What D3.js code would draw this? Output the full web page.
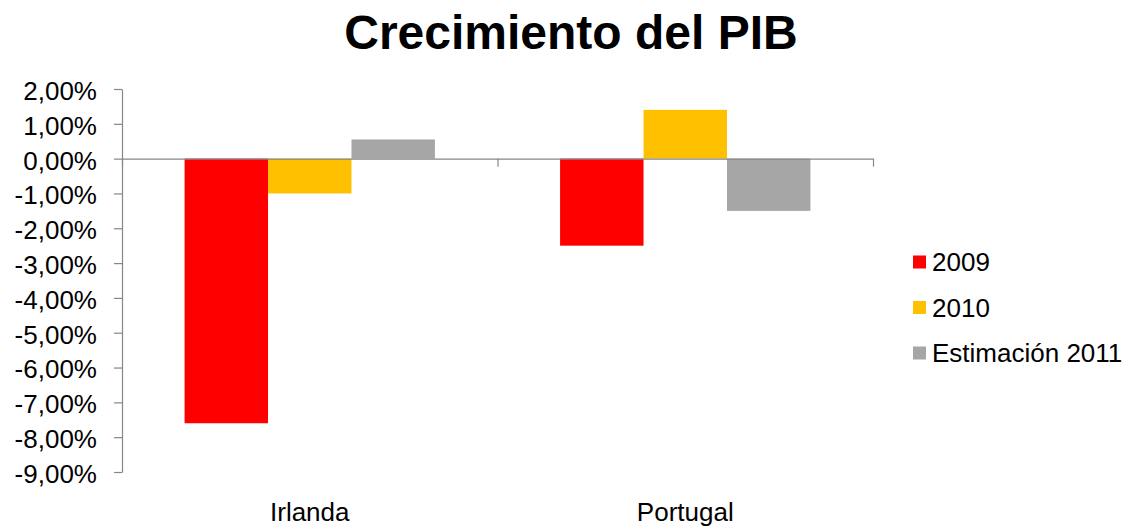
<!DOCTYPE html>
<html>
<head>
<meta charset="utf-8">
<script src="https://cdn.jsdelivr.net/npm/d3@7"></script>
<style>
  body { margin: 0; background: #fff; }
  svg text { font-family: Arial, "Liberation Sans", sans-serif; fill: #000; }
</style>
</head>
<body>
<svg id="chart" width="1128" height="526"></svg>
<script>
const title = "Crecimiento del PIB";
const countries = ["Irlanda", "Portugal"];
const series = ["2009", "2010", "Estimación 2011"];
const colors = ["#ff0000", "#ffc000", "#a6a6a6"];
// GDP growth in %, one array per series, same order as countries
const values2009 = [-7.6, -2.5];
const values2010 = [-1.0, 1.4];
const values2011 = [0.55, -1.5];
const yTicks = [2, 1, 0, -1, -2, -3, -4, -5, -6, -7, -8, -9];

const seriesValues = [values2009, values2010, values2011];
const rows = [];
countries.forEach((c, i) => {
  series.forEach((s, j) => rows.push({ country: c, series: s, value: seriesValues[j][i] }));
});

const svg = d3.select("#chart");
const axisColor = "#868686";

const locale = d3.formatLocale({ decimal: ",", thousands: ".", grouping: [3], currency: ["", "€"], minus: "-" });
const pct = d => locale.format(".2f")(d) + "%";

const y = d3.scaleLinear()
  .domain([-9, 2])
  .range([472, 89]);

const x0 = d3.scaleBand()
  .domain(countries)
  .range([122, 873]);

const x1 = d3.scaleBand()
  .domain(series)
  .range([0, x0.bandwidth()])
  .paddingOuter(0.75);

const color = d3.scaleOrdinal().domain(series).range(colors);

// title
svg.append("text")
  .attr("x", 571)
  .attr("y", 49)
  .attr("text-anchor", "middle")
  .style("font-size", "48px")
  .style("font-weight", "bold")
  .text(title);

// bars
svg.append("g")
  .selectAll("rect")
  .data(rows)
  .join("rect")
  .attr("x", d => x0(d.country) + x1(d.series))
  .attr("width", x1.bandwidth())
  .attr("y", d => y(Math.max(0, d.value)))
  .attr("height", d => Math.abs(y(d.value) - y(0)))
  .attr("fill", d => color(d.series));

// y axis
const yAxis = svg.append("g")
  .attr("transform", "translate(122,0)")
  .call(d3.axisLeft(y).tickValues(yTicks).tickFormat(pct).tickSize(8).tickSizeOuter(0).tickPadding(17));
yAxis.selectAll("text").style("font-size", "26px").attr("dy", "0.4em");

// x axis along zero, ticks at category edges
const xEdges = d3.scaleLinear().domain([0, countries.length]).range(x0.range());
const xAxis = svg.append("g")
  .attr("transform", `translate(0,${y(0)})`)
  .call(d3.axisBottom(xEdges).tickValues(d3.range(0, countries.length + 1)).tickFormat("").tickSize(8).tickSizeOuter(0));

svg.selectAll(".domain, .tick line").attr("stroke", axisColor).attr("stroke-width", 1.2);

// category labels
svg.append("g")
  .selectAll("text")
  .data(countries)
  .join("text")
  .attr("x", d => x0(d) + x0.bandwidth() / 2)
  .attr("y", 521)
  .attr("text-anchor", "middle")
  .style("font-size", "26px")
  .text(d => d);

// legend
const legend = svg.append("g")
  .selectAll("g")
  .data(series)
  .join("g")
  .attr("transform", (d, i) => `translate(913,${262 + i * 45.5})`);

legend.append("rect")
  .attr("y", -6.5)
  .attr("width", 13)
  .attr("height", 13)
  .attr("fill", d => color(d));

legend.append("text")
  .attr("x", 19)
  .attr("dy", "0.36em")
  .style("font-size", "26px")
  .text(d => d);
</script>
</body>
</html>
